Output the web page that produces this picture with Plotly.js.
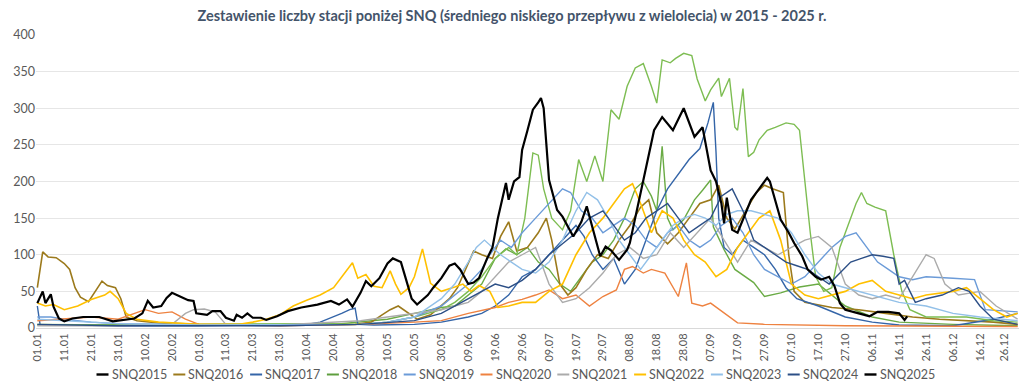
<!DOCTYPE html>
<html><head><meta charset="utf-8">
<script src="https://cdn.plot.ly/plotly-3.0.1.min.js"></script>
<style>html,body{margin:0;padding:0;background:#fff}#chart{width:1024px;height:388px}</style>
</head><body><div id="chart"></div>
<script>
// Category labels (ticks every 10 days, day index from 01.01)
const tickDays = [0,10,20,30,40,50,60,70,80,90,100,110,120,130,140,150,160,170,180,190,200,210,220,230,240,250,260,270,280,290,300,310,320,330,340,350,359];
const tickLabels = ["01.01","11.01","21.01","31.01","10.02","20.02","01.03","11.03","21.03","31.03","10.04","20.04","30.04","10.05","20.05","30.05","09.06","19.06","29.06","09.07","19.07","29.07","08.08","18.08","28.08","07.09","17.09","27.09","07.10","17.10","27.10","06.11","16.11","26.11","06.12","16.12","26.12"];

// Series: [day index, number of stations]
const snq2015 = [];
const snq2016 = [[0,55],[2,104],[4,97],[7,96],[10,88],[12,80],[14,55],[16,42],[19,36],[22,52],[24,64],[26,58],[29,55],[31,40],[33,15],[37,10],[45,7],[60,5],[80,4],[100,4],[118,5],[124,8],[128,18],[131,25],[134,30],[137,22],[141,12],[146,18],[150,30],[153,40],[156,55],[159,80],[162,105],[165,100],[169,95],[172,125],[175,145],[178,105],[182,110],[186,130],[189,150],[191,120],[194,60],[197,45],[200,55],[204,80],[208,100],[212,95],[216,120],[220,140],[224,165],[227,175],[230,130],[234,115],[238,130],[242,150],[246,170],[250,175],[253,195],[256,150],[259,135],[263,160],[267,185],[270,195],[273,190],[277,185],[279,100],[281,50],[285,35],[295,28],[305,25],[315,20],[325,15],[335,12],[345,10],[355,8],[364,5]];
const snq2017 = [[0,30],[1,5],[10,4],[30,3],[60,3],[90,4],[100,5],[105,8],[110,15],[113,20],[116,25],[118,27],[119,5],[125,4],[140,5],[150,8],[160,15],[165,20],[170,30],[175,45],[180,70],[185,80],[190,100],[195,120],[200,140],[203,125],[206,100],[210,80],[214,95],[218,60],[222,80],[226,120],[230,160],[234,190],[238,210],[242,230],[246,245],[249,280],[251,308],[252,240],[253,150],[255,110],[258,100],[262,120],[266,110],[270,100],[274,80],[278,55],[282,40],[290,30],[300,15],[310,8],[320,4],[340,3],[355,12],[364,20]];
const snq2018 = [[0,5],[30,4],[60,5],[90,6],[110,6],[120,5],[130,8],[140,15],[150,25],[155,35],[160,50],[165,70],[170,95],[175,110],[178,100],[181,150],[184,239],[186,236],[188,190],[191,150],[195,134],[198,160],[201,230],[204,200],[207,235],[210,200],[213,298],[216,285],[219,330],[222,355],[225,361],[228,330],[230,307],[232,366],[235,362],[237,368],[240,375],[243,372],[245,340],[248,310],[250,325],[253,341],[254,316],[257,341],[259,274],[260,270],[262,327],[264,234],[266,240],[268,257],[271,270],[274,274],[278,280],[281,278],[283,270],[285,200],[287,130],[289,70],[292,50],[295,55],[298,110],[301,140],[304,170],[306,185],[308,170],[311,165],[315,160],[318,100],[321,50],[324,25],[330,15],[345,15],[355,10],[364,8]];
const snq2018b = [[0,4],[40,5],[80,5],[110,5],[120,8],[130,12],[140,20],[150,28],[155,30],[160,45],[165,60],[170,95],[174,108],[178,100],[182,110],[186,90],[190,80],[194,60],[198,50],[202,70],[206,90],[210,100],[214,120],[218,150],[222,190],[225,200],[228,180],[230,160],[232,248],[234,150],[236,134],[240,148],[244,175],[247,188],[250,202],[251,138],[255,107],[259,80],[266,62],[270,43],[276,48],[283,56],[290,60],[300,30],[310,15],[320,8],[340,5],[364,3]];
const snq2019 = [[0,15],[5,15],[10,12],[20,8],[30,6],[60,4],[90,3],[120,5],[130,8],[140,15],[150,30],[160,60],[165,80],[168,100],[172,120],[176,110],[180,130],[185,150],[190,170],[195,190],[198,185],[202,160],[206,150],[210,130],[214,140],[218,150],[222,140],[226,120],[230,110],[234,130],[238,140],[242,120],[246,110],[250,120],[254,140],[258,150],[262,130],[266,100],[270,80],[275,70],[280,60],[285,70],[290,90],[295,110],[300,125],[304,130],[308,110],[312,90],[316,80],[320,70],[325,66],[330,70],[340,68],[348,66],[352,25],[364,22]];
const snq2020 = [[0,10],[10,12],[20,15],[30,12],[35,18],[40,25],[45,20],[50,22],[55,12],[60,5],[90,3],[120,5],[140,8],[150,10],[160,20],[170,28],[175,35],[180,39],[185,45],[190,52],[195,40],[200,45],[205,30],[210,43],[215,52],[218,80],[221,84],[225,75],[228,80],[233,75],[238,43],[241,89],[243,34],[247,30],[250,34],[255,20],[260,7],[270,5],[300,3],[364,2]];
const snq2021 = [[0,3],[30,3],[50,5],[55,20],[58,25],[62,26],[66,22],[70,5],[90,4],[110,8],[120,10],[130,15],[140,20],[150,25],[155,30],[160,35],[165,50],[170,70],[175,90],[180,100],[185,110],[190,60],[195,35],[200,40],[205,55],[210,75],[215,100],[220,110],[225,95],[230,100],[235,130],[240,110],[245,130],[250,150],[255,120],[260,90],[265,120],[270,110],[275,100],[280,110],[285,120],[290,125],[295,110],[300,60],[305,45],[310,40],[315,45],[320,40],[325,70],[330,100],[333,95],[337,60],[342,45],[350,50],[356,30],[364,12]];
const snq2022 = [[0,34],[3,30],[6,32],[10,25],[15,30],[20,39],[25,45],[27,50],[30,40],[33,20],[37,12],[45,8],[60,5],[75,5],[80,8],[85,12],[90,18],[95,30],[100,38],[105,45],[110,55],[114,75],[117,89],[119,68],[122,73],[125,57],[128,55],[131,78],[133,60],[135,46],[138,55],[140,70],[143,108],[146,61],[150,50],[155,56],[158,60],[161,50],[164,58],[168,50],[171,28],[175,30],[180,35],[185,35],[190,50],[195,60],[200,100],[205,130],[210,150],[214,170],[218,190],[221,197],[224,170],[228,130],[232,160],[236,150],[240,120],[244,100],[248,90],[252,70],[256,80],[260,110],[264,130],[268,150],[272,160],[276,120],[280,60],[285,45],[290,40],[300,50],[305,60],[310,65],[315,50],[320,45],[325,40],[330,45],[335,48],[340,50],[345,55],[350,40],[355,25],[360,15],[364,20]];
const snq2023 = [[0,12],[10,10],[30,6],[60,4],[90,4],[120,5],[130,8],[140,15],[150,40],[155,60],[160,90],[163,110],[166,120],[169,110],[172,100],[176,90],[180,80],[185,75],[190,90],[195,120],[200,160],[204,185],[208,175],[212,150],[216,120],[220,100],[224,80],[228,100],[232,120],[236,140],[240,150],[244,155],[248,150],[252,140],[256,155],[260,160],[265,160],[270,155],[275,150],[280,130],[285,100],[290,75],[295,60],[300,55],[305,50],[310,45],[315,40],[320,35],[330,30],[340,20],[350,15],[364,10]];
const snq2024 = [[0,5],[30,3],[60,3],[90,3],[120,5],[140,10],[150,20],[160,40],[165,50],[170,60],[175,55],[180,65],[185,80],[190,100],[195,115],[200,130],[205,150],[210,160],[214,140],[218,120],[222,130],[226,150],[230,160],[234,170],[238,150],[242,130],[246,140],[250,150],[254,180],[258,190],[262,160],[266,120],[270,110],[274,100],[278,90],[282,85],[286,80],[290,70],[294,60],[298,75],[302,90],[306,95],[310,100],[314,98],[318,95],[320,60],[322,65],[326,35],[330,40],[336,45],[342,55],[346,50],[350,30],[355,12],[364,5]];
const snq2025 = [[0,34],[2,50],[3,34],[5,46],[6,29],[8,13],[10,9],[13,13],[17,15],[23,15],[28,9],[36,13],[39,20],[41,37],[43,28],[46,30],[48,41],[50,48],[53,43],[56,38],[58,37],[59,20],[63,18],[65,23],[68,23],[70,14],[73,10],[74,18],[76,14],[78,20],[80,14],[83,14],[85,11],[89,16],[93,23],[98,28],[104,32],[109,37],[112,32],[115,39],[117,29],[120,48],[122,64],[124,57],[127,68],[130,88],[132,95],[135,90],[137,65],[139,40],[141,32],[143,38],[145,45],[147,55],[150,68],[153,85],[155,88],[157,80],[160,60],[162,62],[164,68],[167,95],[169,110],[171,150],[173,185],[174,198],[175,175],[177,200],[179,206],[180,243],[182,270],[184,298],[186,308],[187,314],[188,300],[190,202],[193,161],[195,152],[199,125],[202,145],[204,166],[205,152],[209,98],[211,111],[213,106],[216,93],[219,107],[220,116],[225,202],[229,270],[232,288],[236,270],[240,300],[244,261],[247,274],[250,215],[252,200],[254,170],[255,143],[256,178],[258,134],[260,130],[263,157],[265,175],[268,190],[271,205],[272,200],[274,175],[276,148],[279,130],[281,116],[284,98],[286,80],[289,70],[291,66],[294,70],[296,57],[298,34],[300,25],[305,20],[309,16],[312,22],[316,22],[320,20],[322,11],[323,16]];

const series = [
  {name:"SNQ2015", data:snq2015, color:"#000000", w:2.2},
  {name:"SNQ2016", data:snq2016, color:"#9c7a1c", w:1.6},
  {name:"SNQ2017", data:snq2017, color:"#3465a8", w:1.4},
  {name:"SNQ2018", data:snq2018, color:"#7dbd52", w:1.4},
  {name:"SNQ2019", data:snq2019, color:"#6b9bd8", w:1.4},
  {name:"SNQ2020", data:snq2020, color:"#ee8240", w:1.4},
  {name:"SNQ2021", data:snq2021, color:"#ababab", w:1.4},
  {name:"SNQ2022", data:snq2022, color:"#ffc000", w:1.6},
  {name:"SNQ2023", data:snq2023, color:"#92c0e8", w:1.4},
  {name:"SNQ2024", data:snq2024, color:"#2c4f86", w:1.4},
  {name:"SNQ2025", data:snq2025, color:"#000000", w:2.2}
];
const legendColors = {"SNQ2018":"#5e9e3e"};

const M = {l:36, r:5, t:35, b:60};
const W = 1024, H = 388;
const pw = W - M.l - M.r, ph = H - M.t - M.b;
const px2paperX = px => (px - M.l) / pw;
const px2paperY = py => (H - M.b - py) / ph;

const traces = [];
traces.push({type:"scatter", mode:"lines", name:"SNQ2018", showlegend:false,
  x:snq2018b.map(p=>p[0]), y:snq2018b.map(p=>p[1]), line:{color:"#6aab45", width:1.4}});
series.forEach(s=>{
  traces.push({type:"scatter", mode:"lines", name:s.name, showlegend:false,
    x:s.data.map(p=>p[0]), y:s.data.map(p=>p[1]),
    line:{color:s.color, width:s.w}});
});

// legend drawn as shapes + text, laid out in a single row under the axis
const shapes = [], annotations = [];
const legY = px2paperY(374.5);
series.forEach((s,i)=>{
  const x0 = 96.5 + i*76.8;
  shapes.push({type:"line", xref:"paper", yref:"paper", x0:px2paperX(x0), x1:px2paperX(x0+12),
    y0:legY, y1:legY, line:{color:legendColors[s.name]||s.color, width:s.w>2?2.4:2}});
  annotations.push({xref:"paper", yref:"paper", x:px2paperX(x0+13), y:legY, xanchor:"left", yanchor:"middle",
    text:s.name, showarrow:false, font:{size:12.5, color:"#595959", family:"Lato, 'Open Sans', sans-serif"}});
});

const layout = {
  width:W, height:H,
  paper_bgcolor:"#ffffff", plot_bgcolor:"#ffffff",
  margin:M,
  font:{family:"Lato, 'Open Sans', sans-serif", color:"#595959", size:12},
  title:{text:"<b>Zestawienie liczby stacji poniżej SNQ (średniego niskiego przepływu z wielolecia) w 2015 - 2025 r.</b>",
    font:{family:"Lato, 'Open Sans', sans-serif", size:14.5, color:"#44546a"},
    x:0.5, xanchor:"center", y:0.958, yanchor:"middle", yref:"container"},
  xaxis:{range:[-0.5,364.5], tickmode:"array", tickvals:tickDays, ticktext:tickLabels,
    tickangle:-90, tickfont:{size:11, color:"#595959"}, showgrid:false, zeroline:false,
    showline:true, linecolor:"#d9d9d9", linewidth:1, ticks:"", automargin:false, fixedrange:true},
  yaxis:{range:[0,400], dtick:50, tickfont:{size:12.5, color:"#595959"},
    gridcolor:"#e6e6e6", gridwidth:1, zeroline:false, showline:false, ticks:"", automargin:false, fixedrange:true},
  showlegend:false,
  shapes:shapes, annotations:annotations
};
Plotly.newPlot("chart", traces, layout, {displayModeBar:false, staticPlot:true});
</script></body></html>
